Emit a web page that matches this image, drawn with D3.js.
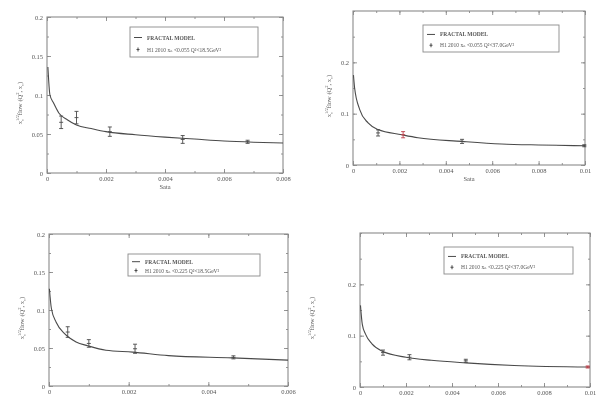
<!DOCTYPE html>
<html><head><meta charset="utf-8">
<script src="https://cdn.jsdelivr.net/npm/d3@7"></script>
<style>body{margin:0;background:#fff}svg{display:block}</style>
</head><body>
<svg id="c" width="602" height="400"></svg>
<script>
// ---------- data ----------
const legendLine = "FRACTAL MODEL";
const legendData = ["H1 2010 x\u2099 <0.055 Q\u00b2<18.5GeV\u00b2","H1 2010 x\u2099 <0.055 Q\u00b2<37.0GeV\u00b2","H1 2010 x\u2099 <0.225 Q\u00b2<18.5GeV\u00b2","H1 2010 x\u2099 <0.225 Q\u00b2<37.0GeV\u00b2"];
const xLabel = "Sata";

const p1CurveX = [0.00003,0.0001,0.00022,0.0004,0.0007,0.001,0.0015,0.002,0.003,0.004,0.005,0.006,0.007,0.008];
const p1CurveY = [0.136,0.1,0.09,0.077,0.068,0.0615,0.057,0.053,0.049,0.046,0.0435,0.041,0.0395,0.0385];
const p1PtX = [0.00048,0.001,0.00213,0.0046,0.0068];
const p1PtY = [0.065,0.071,0.053,0.043,0.040];
const p1PtErr = [0.008,0.008,0.006,0.005,0.002];

const p2CurveX = [0.00002,0.00007,0.00029,0.00065,0.00108,0.0021,0.0028,0.0047,0.0064,0.008,0.01];
const p2CurveY = [0.175,0.150,0.108,0.082,0.069,0.059,0.053,0.046,0.041,0.039,0.0375];
const p2PtX = [0.00108,0.00216,0.0047,0.00997];
const p2PtY = [0.0625,0.059,0.046,0.0375];
const p2PtErr = [0.006,0.006,0.004,0.002];

const p3CurveX = [0.00001,0.00006,0.00018,0.00039,0.00068,0.00097,0.00143,0.0021,0.003,0.0046,0.006];
const p3CurveY = [0.128,0.102,0.084,0.069,0.058,0.053,0.047,0.0446,0.040,0.037,0.034];
const p3PtX = [0.00047,0.001,0.00216,0.00463];
const p3PtY = [0.071,0.056,0.049,0.0377];
const p3PtErr = [0.007,0.005,0.006,0.002];

const p4CurveX = [0.00002,0.0001,0.00024,0.00052,0.001,0.002,0.0031,0.0046,0.0067,0.01];
const p4CurveY = [0.159,0.122,0.103,0.084,0.069,0.058,0.052,0.047,0.042,0.039];
const p4PtX = [0.001,0.00215,0.0046,0.0099];
const p4PtY = [0.067,0.058,0.051,0.039];
const p4PtErr = [0.005,0.005,0.003,0.002];

const xTicks8 = [0,0.002,0.004,0.006,0.008];
const xTicks10 = [0,0.002,0.004,0.006,0.008,0.01];
const xTicks6 = [0,0.002,0.004,0.006];
const yTicks02 = [0,0.05,0.1,0.15,0.2];
const yTicks03 = [0,0.1,0.2];

// ---------- layout ----------
const panels = [
  {x0:47,x1:283,y0:17,y1:173,xd:[0,0.008],yd:[0,0.2],xt:xTicks8,xm:0.001,yt:yTicks02,ym:0.025,
   cx:p1CurveX,cy:p1CurveY,px:p1PtX,py:p1PtY,pe:p1PtErr,leg:[130,27,128,30],ylx:22,xl:true,hi:-1},
  {x0:353,x1:585,y0:11,y1:165,xd:[0,0.01],yd:[0,0.3],xt:xTicks10,xm:0.001,yt:yTicks03,ym:0.05,
   cx:p2CurveX,cy:p2CurveY,px:p2PtX,py:p2PtY,pe:p2PtErr,leg:[423,25,136,27],ylx:331,xl:true,hi:1},
  {x0:49,x1:288,y0:234,y1:386,xd:[0,0.006],yd:[0,0.2],xt:xTicks6,xm:0.001,yt:yTicks02,ym:0.025,
   cx:p3CurveX,cy:p3CurveY,px:p3PtX,py:p3PtY,pe:p3PtErr,leg:[128,254,132,22],ylx:24,xl:false,hi:-1},
  {x0:360,x1:590,y0:233,y1:387,xd:[0,0.01],yd:[0,0.3],xt:xTicks10,xm:0.001,yt:yTicks03,ym:0.05,
   cx:p4CurveX,cy:p4CurveY,px:p4PtX,py:p4PtY,pe:p4PtErr,leg:[444,247,129,27],ylx:314,xl:false,hi:3}
];

const svg = d3.select("#c");
const defs = svg.append("defs");
defs.append("filter").attr("id","bl").append("feGaussianBlur").attr("stdDeviation",0.45);
const root = svg.append("g").attr("filter","url(#bl)");
const ink = "#4a4a4a", frame = "#8a8a8a", txt = "#555";
const font = "Liberation Serif, DejaVu Serif, serif";

function fmt(v){ return String(+v.toFixed(4)); }

panels.forEach((p,i) => {
  const g = root.append("g");
  const x = d3.scaleLinear().domain(p.xd).range([p.x0,p.x1]);
  const y = d3.scaleLinear().domain(p.yd).range([p.y1,p.y0]);
  const W = p.x1-p.x0, H = p.y1-p.y0;

  g.append("rect").attr("x",p.x0).attr("y",p.y0).attr("width",W).attr("height",H)
    .attr("fill","none").attr("stroke",frame).attr("stroke-width",1.1);

  const xMinor = d3.range(p.xd[0],p.xd[1]+p.xm/2,p.xm);
  const yMinor = d3.range(p.yd[0],p.yd[1]+p.ym/2,p.ym);
  const axB = d3.axisBottom(x).tickValues(p.xt).tickSize(-4).tickFormat(fmt).tickPadding(3);
  const axT = d3.axisTop(x).tickValues(p.xt).tickSize(-4).tickFormat("");
  const axL = d3.axisLeft(y).tickValues(p.yt).tickSize(-4).tickFormat(fmt).tickPadding(4);
  const axR = d3.axisRight(y).tickValues(p.yt).tickSize(-4).tickFormat("");
  const mB = d3.axisBottom(x).tickValues(xMinor).tickSize(-2).tickFormat("");
  const mT = d3.axisTop(x).tickValues(xMinor).tickSize(-2).tickFormat("");
  const mL = d3.axisLeft(y).tickValues(yMinor).tickSize(-2).tickFormat("");
  const mR = d3.axisRight(y).tickValues(yMinor).tickSize(-2).tickFormat("");
  [[axB,`0,${p.y1}`],[axT,`0,${p.y0}`],[axL,`${p.x0},0`],[axR,`${p.x1},0`],
   [mB,`0,${p.y1}`],[mT,`0,${p.y0}`],[mL,`${p.x0},0`],[mR,`${p.x1},0`]].forEach(([a,t]) => {
    const ga = g.append("g").attr("transform",`translate(${t})`).call(a);
    ga.select(".domain").remove();
    ga.selectAll("line").attr("stroke",frame).attr("stroke-width",0.9);
    ga.selectAll("text").attr("fill",txt).attr("font-family",font).attr("font-size",6.5);
  });

  if (p.xl) g.append("text").attr("x",(p.x0+p.x1)/2).attr("y",p.y1+16).attr("text-anchor","middle")
     .attr("font-family",font).attr("font-size",6.5).attr("fill",txt).text(xLabel);
  const yl = g.append("text").attr("transform",`translate(${p.ylx},${(p.y0+p.y1)/2+8}) rotate(-90)`)
     .attr("text-anchor","middle").attr("font-family",font).attr("font-size",6.5).attr("fill",txt);
  yl.append("tspan").text("x");
  yl.append("tspan").attr("font-size",4.5).attr("dy",2).text("c");
  yl.append("tspan").attr("font-size",4.5).attr("dy",-5).attr("dx",-2).text("1/2");
  yl.append("tspan").attr("dy",3).text("flow (Q");
  yl.append("tspan").attr("font-size",4.5).attr("dy",-3).text("2");
  yl.append("tspan").attr("dy",3).text(", x");
  yl.append("tspan").attr("font-size",4.5).attr("dy",2).text("c");
  yl.append("tspan").attr("dy",-2).text(")");

  const pts = p.cx.map((v,k)=>[v,p.cy[k]]);
  g.append("path").datum(pts).attr("fill","none").attr("stroke",ink).attr("stroke-width",1.1)
    .attr("d",d3.line().x(d=>x(d[0])).y(d=>y(d[1])).curve(d3.curveMonotoneX));

  p.px.forEach((v,k) => {
    const cx = x(v), cy = y(p.py[k]), e = p.pe[k];
    const col = k===p.hi ? "#c0404a" : ink;
    const ge = g.append("g").attr("stroke",col).attr("stroke-width",0.9);
    ge.append("line").attr("x1",cx).attr("x2",cx).attr("y1",y(p.py[k]+e)).attr("y2",y(p.py[k]-e));
    ge.append("line").attr("x1",cx-2).attr("x2",cx+2).attr("y1",y(p.py[k]+e)).attr("y2",y(p.py[k]+e));
    ge.append("line").attr("x1",cx-2).attr("x2",cx+2).attr("y1",y(p.py[k]-e)).attr("y2",y(p.py[k]-e));
    ge.append("line").attr("x1",cx-2).attr("x2",cx+2).attr("y1",cy).attr("y2",cy);
  });

  const [lx,ly,lw,lh] = p.leg;
  g.append("rect").attr("x",lx).attr("y",ly).attr("width",lw).attr("height",lh)
    .attr("fill","#fff").attr("stroke",frame).attr("stroke-width",0.9);
  const r1 = ly+lh*0.35, r2 = ly+lh*0.75;
  g.append("line").attr("x1",lx+4).attr("x2",lx+12).attr("y1",r1).attr("y2",r1).attr("stroke",ink);
  g.append("text").attr("x",lx+17).attr("y",r1+2).attr("font-family",font).attr("font-size",5.5)
    .attr("font-weight","bold").attr("fill",txt).text(legendLine);
  g.append("line").attr("x1",lx+8).attr("x2",lx+8).attr("y1",r2-2).attr("y2",r2+2).attr("stroke",ink);
  g.append("line").attr("x1",lx+6.5).attr("x2",lx+9.5).attr("y1",r2).attr("y2",r2).attr("stroke",ink);
  g.append("text").attr("x",lx+17).attr("y",r2+2).attr("font-family",font).attr("font-size",5.5)
    .attr("fill",txt).text(legendData[i]);
});
</script>
</body></html>
